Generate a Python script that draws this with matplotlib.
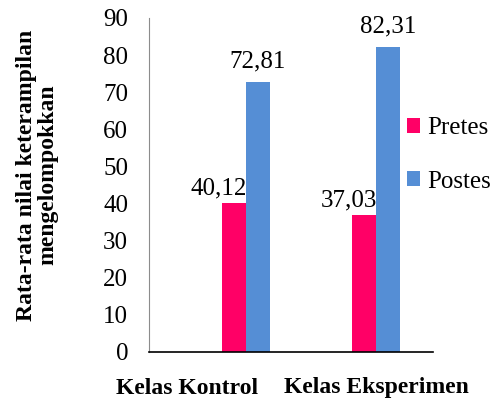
import matplotlib
matplotlib.use("Agg")
import matplotlib.pyplot as plt
import numpy as np

categories = ["Kelas Kontrol", "Kelas Eksperimen"]
series_names = ["Pretes", "Postes"]
pretes = [40.12, 37.03]
postes = [72.81, 82.31]
y_ticks = [0, 10, 20, 30, 40, 50, 60, 70, 80, 90]
y_label = "Rata-rata nilai keterampilan\nmengelompokkan"

colors = {"Pretes": "#FF0066", "Postes": "#558ED5"}

plt.rcParams["font.family"] = ["Liberation Serif", "DejaVu Serif"]

fig = plt.figure(figsize=(5.01, 4.01), dpi=100)
ax = fig.add_axes([149 / 501, 49 / 401, 284 / 501, 334 / 401])

x = np.arange(len(categories))
w = 0.185
b1 = ax.bar(x - w / 2, pretes, w, color=colors["Pretes"], label="Pretes")
b2 = ax.bar(x + w / 2, postes, w, color=colors["Postes"], label="Postes")

fmt = lambda v: f"{v:.2f}".replace(".", ",")
for xi, v in zip(x, pretes):
    ax.annotate(fmt(v), (xi - w / 2, v), xytext=(-11, 6), textcoords="offset points",
                ha="center", va="baseline", fontsize=18)
for xi, v in zip(x, postes):
    ax.annotate(fmt(v), (xi + w / 2, v), xytext=(0, 10.5), textcoords="offset points",
                ha="center", va="baseline", fontsize=18)

ax.set_xlim(-0.746, 1.438)
ax.set_ylim(0, 90)
ax.set_yticks(y_ticks)
ax.tick_params(axis="y", length=0, labelsize=18, pad=15)
ax.tick_params(axis="x", length=0, labelbottom=False)
for s in ["top", "right"]:
    ax.spines[s].set_visible(False)
ax.spines["left"].set_color("#8c8c8c")
ax.spines["bottom"].set_color("black")
ax.spines["bottom"].set_linewidth(1.2)

# category labels under the axis
label_x = [187, 376]
for lx, name in zip(label_x, categories):
    fig.text(lx / 501, 1 - 388 / 401, name, ha="center", va="center",
             fontsize=17, fontweight="bold")

fig.text(37 / 501, 1 - 175 / 401, y_label, ha="center", va="center",
         rotation=90, fontsize=17, fontweight="bold", linespacing=1.05)

leg = fig.legend(handles=[b1, b2], labels=series_names, loc="center left",
                 bbox_to_anchor=(407 / 501, 1 - 155 / 401), frameon=False,
                 fontsize=18, handlelength=0.52, handleheight=0.52,
                 labelspacing=1.25, handletextpad=0.3, borderpad=0,
                 borderaxespad=0)

fig.savefig("out.png", dpi=100)
